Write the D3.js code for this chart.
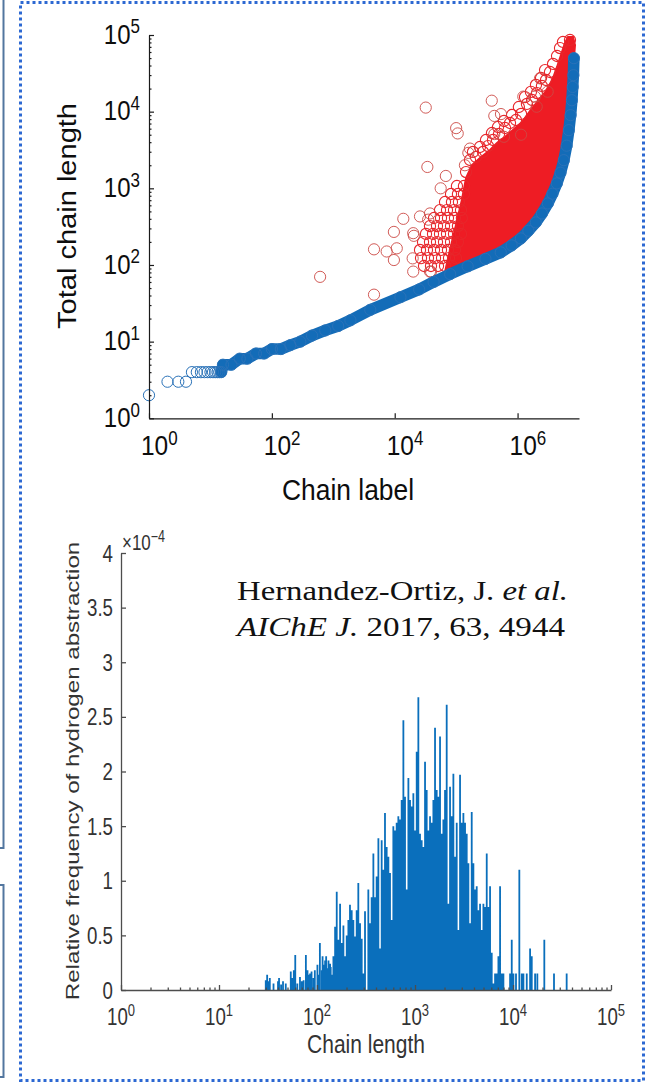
<!DOCTYPE html>
<html>
<head>
<meta charset="utf-8">
<script src="https://cdn.jsdelivr.net/npm/d3@7"></script>
<style>
  html, body { margin: 0; padding: 0; background: #fff; }
  svg { display: block; }
</style>
</head>
<body>
<svg id="fig" width="647" height="1085"></svg>
<script>
// ---------- top panel: total chain length per chain label (sorted) ----------
const blueLabel = [1, 2, 3, 4, 5, 6, 7, 8, 9, 10, 11, 12, 13, 14, 15, 16, 22, 30, 40, 55, 75, 100, 140, 200,
  290, 450, 740, 1200, 1900, 4000, 12400, 25000, 43000, 80000, 154000, 300000, 532000, 800000, 1130000,
  1500000, 1980000, 2500000, 3110000, 3700000, 4360000, 5000000, 5670000, 6300000, 6840000, 7300000,
  7660000, 7900000, 8100000, 8260000];
const blueLength = [2, 3, 3, 3, 4, 4, 4, 4, 4, 4, 4, 4, 4, 4, 4, 5, 5, 6, 6, 7, 7, 8, 8, 9,
  10, 12, 14, 16, 19, 26, 38, 48, 60, 76, 96, 120, 146, 180, 222,
  280, 359, 470, 635, 850, 1160, 1600, 2330, 3600, 5740, 9000,
  14100, 21000, 29900, 49900];

// chains with hydrogen abstraction: outline of the fully overlapped core
const redCoreLabel = [65900, 79400, 99500, 124000, 145000, 181000, 244000, 356000, 462000, 624000, 841000, 1180000,
  1590000, 2150000, 3010000, 3780000, 4390000, 5090000, 5920000, 6620000, 7980000, 8610000, 8280000, 7980000,
  7410000, 6620000, 5480000, 4220000, 3010000, 1920000, 1090000, 518000, 244000, 150000, 65900];
const redCoreLength = [81, 157, 332, 704, 1360, 2010, 2490, 3160, 3900, 4670, 5770, 7330,
  10200, 13800, 19200, 27500, 38300, 54800, 78700, 94200, 94200, 74100, 50100, 30100,
  14200, 5770, 2340, 1170, 644, 364, 225, 148, 120, 97, 76];

// chains with hydrogen abstraction: overlapping markers around the core
const redEdgeLabel = [
  30000, 38960, 50700, 65900, 85500,
  26800, 34800, 45300, 58900, 76500, 99500,
  25800, 33500, 43600, 56700, 73600, 95700,
  28900, 37500, 48800, 63400, 82500, 107000,
  32300, 42000, 54600, 71000, 92300, 120000,
  37500, 48800, 63400, 82500, 107000,
  43600, 56700, 73600, 95700, 124000,
  54600, 71000, 92300, 120000,
  65900, 85500, 111000,
  82500, 107000, 134000,
  103000, 134000,
  145000, 168000, 210000, 274000, 330000, 398000, 499000, 624000, 753000, 942000, 1140000, 1420000,
  1720000, 2070000, 2490000, 2900000, 3370000, 3780000, 4390000, 4910000, 5480000, 7130000,
  188000, 244000, 306000, 383000, 480000, 601000, 812000, 1050000, 1320000, 1650000, 1990000, 2410000, 2800000];
const redEdgeLength = [
  97, 97, 97, 97, 97,
  123, 123, 123, 123, 123, 123,
  157, 157, 157, 157, 157, 157,
  199, 199, 199, 199, 199, 199,
  254, 254, 254, 254, 254, 254,
  322, 322, 322, 322, 322,
  410, 410, 410, 410, 410,
  521, 521, 521, 521,
  663, 663, 663,
  843, 843, 843,
  1072, 1072,
  1630, 2340, 2560, 2980, 3560, 4270, 5110, 6120, 7110, 7780, 9330, 12600,
  14200, 17500, 21600, 25900, 32900, 41900, 53200, 67600, 81100, 86100,
  2980, 3460, 4270, 5270, 6310, 7550, 9050, 11500, 15500, 18100, 22300, 27500, 34900];

// isolated chains with hydrogen abstraction
const redSparseLabel = [610, 4600, 4600, 7400, 10800, 9700, 9700, 13800, 20000, 20500, 19600, 20000, 25800,
  37500, 35000, 34000, 37500, 56000, 68000, 139000, 158000, 32000, 100000, 106000, 168000, 380000, 418000,
  537000, 418000, 600000, 1140000, 1240000, 1920000, 2320000, 3090000, 2050000, 39000];
const redSparseLength = [70, 41, 160, 150, 165, 116, 270, 400, 260, 240, 122, 82, 430,
  470, 390, 1900, 82, 1000, 1450, 2000, 2900, 11300, 6100, 5200, 3300, 13900, 8800,
  9300, 5100, 4700, 5000, 15700, 15700, 27200, 18200, 11600, 82];

const topYTicks = [1, 10, 100, 1000, 10000, 100000];
const topXTicks = [1, 100, 10000, 1000000];

// ---------- bottom panel: relative frequency of hydrogen abstraction ----------
const histLength = [
  30, 31, 32, 33, 36, 40, 41, 43, 45, 48, 54, 56, 58, 60, 63, 67, 70, 73, 77, 80, 83, 85, 88, 92,
  95, 101, 104, 107, 112, 114, 118, 121, 124, 127, 131, 136, 138, 142,
  147, 153, 159, 165, 172, 179, 186, 193, 201, 209, 217, 226, 235, 244, 254, 264, 275, 286, 297, 309,
  334, 348, 361, 376, 391, 406, 423, 440, 457, 475, 494, 514, 535, 556, 578, 601, 625, 650, 676,
  703, 731, 761, 791, 823, 856, 890, 925, 962, 1001, 1041, 1082, 1125, 1170, 1217, 1266, 1316, 1369,
  1424, 1481, 1540, 1601, 1665, 1732, 1801, 1873, 1948, 2025, 2106, 2191, 2278, 2369, 2464, 2562, 2665,
  2771, 2882, 2997, 3117, 3241, 3371, 3506, 3646, 3791, 3943, 4100, 4264, 4435, 4612, 4796, 4988, 5187,
  5395, 5610, 5834, 6067, 6310,
  6562, 6824, 7097, 7381, 7675, 7982, 9337, 9710, 10098, 10730, 11604, 12283, 12774, 13815,
  14941, 15538, 16805, 17716, 20871, 26207, 35285];
// relative frequency in units of 1e-4
const histFreq = [
  0.09, 0.14, 0.08, 0.11, 0.06, 0.08, 0.11, 0.05, 0.08, 0.06, 0.17, 0.11, 0.18, 0.32, 0.06, 0.12, 0.08, 0.09, 0.32, 0.18, 0.14, 0.15, 0.17, 0.11,
  0.18, 0.23, 0.14, 0.43, 0.18, 0.31, 0.23, 0.27, 0.31, 0.20, 0.27, 0.24, 0.21, 0.14,
  0.31, 0.58, 0.90, 0.46, 0.79, 0.43, 0.59, 0.31, 0.50, 0.64, 0.78, 0.73, 0.64, 0.49, 0.73, 0.98, 0.61, 0.47, 0.15, 0.72, 0.92,
  0.61, 0.85, 1.25, 0.85, 1.04, 1.39, 0.38, 1.37, 1.10, 1.62, 1.31, 1.22, 1.07, 0.64, 1.50, 1.46, 1.53, 1.59,
  1.56, 1.74, 2.47, 1.77, 0.92, 1.94, 1.74, 1.68, 1.80, 1.46, 2.18, 2.68, 1.43, 1.37, 1.31, 2.09, 1.83, 1.46,
  1.59, 1.53, 1.74, 2.40, 1.83, 1.77, 2.32, 1.43, 1.56, 1.83, 2.61, 0.79, 1.86, 1.59, 1.98, 1.22, 1.53,
  0.55, 1.97, 1.53, 1.62, 1.53, 1.43, 1.16, 0.61, 1.63, 1.16, 0.92, 0.95, 0.73, 0.79, 0.55, 0.79, 0.76,
  1.25, 0.76, 0.95, 0.34, 0.06,
  0.15, 0.15, 0.31, 0.95, 0.15, 0.15, 0.15, 0.46, 0.15, 0.15, 1.10, 0.15, 0.15, 0.15,
  0.38, 0.31, 0.15, 0.15, 0.46, 0.15, 0.15];
const histFreqExponent = -4;
const histXTicks = [1, 10, 100, 1000, 10000, 100000];
const histYTicks = [0, 0.5, 1, 1.5, 2, 2.5, 3, 3.5, 4];

// ---------- drawing ----------
const SANS = "'Liberation Sans', Arial, Helvetica, sans-serif";
const SERIF = "'Liberation Serif', 'Times New Roman', serif";
const svg = d3.select('#fig');

// neighbouring slide boxes on the left edge
svg.append('rect').attr('x', -20).attr('y', -20).attr('width', 23.5).attr('height', 868)
  .attr('fill', 'none').attr('stroke', '#52769f').attr('stroke-width', 2);
svg.append('rect').attr('x', -20).attr('y', 885).attr('width', 23.5).attr('height', 192)
  .attr('fill', 'none').attr('stroke', '#52769f').attr('stroke-width', 2);

// dotted frame
svg.append('rect').attr('x', 20.5).attr('y', 2.5).attr('width', 623).attr('height', 1078)
  .attr('fill', 'none').attr('stroke', '#2c68d2').attr('stroke-width', 3)
  .attr('stroke-dasharray', '3 3');

function stretched(x, y, k, rot) {
  return svg.append('g')
    .attr('transform', `translate(${x},${y}) scale(1,${k})` + (rot ? ` rotate(${rot})` : ''))
    .append('text');
}
function powerText(t, exp, size, supSize, rise) {
  t.append('tspan').attr('font-size', size).text('10');
  t.append('tspan').attr('font-size', supSize).attr('dy', -rise).text(exp);
}

// ===== top panel =====
const xTop = d3.scaleLog().domain([1, 1e7]).range([149, 579]);
const yTop = d3.scaleLog().domain([1, 1e5]).range([418.3, 35]);
const topPanel = svg.append('g');

// red markers first, blue on top
const core = redCoreLabel.map((v, i) => [xTop(v), yTop(redCoreLength[i])]);
topPanel.append('path').attr('d', d3.line().curve(d3.curveLinearClosed)(core))
  .attr('fill', '#ee1c24').attr('stroke', '#ee1c24').attr('stroke-width', 2);

topPanel.append('g').selectAll('circle').data(redEdgeLabel).join('circle')
  .attr('cx', d => xTop(d)).attr('cy', (d, i) => yTop(redEdgeLength[i])).attr('r', 5.6)
  .attr('fill', 'none').attr('stroke', '#e8262b').attr('stroke-width', 1.1);

topPanel.append('g').selectAll('circle').data(redSparseLabel).join('circle')
  .attr('cx', d => xTop(d)).attr('cy', (d, i) => yTop(redSparseLength[i])).attr('r', 5.6)
  .attr('fill', 'none').attr('stroke', '#cc4a45').attr('stroke-width', 0.9);

const bluePts = blueLabel.map((v, i) => ({ label: v, len: blueLength[i] }));
const denseBlue = bluePts.filter(d => d.label >= 15);
topPanel.append('path')
  .attr('d', d3.line().x(d => xTop(d.label)).y(d => yTop(d.len))(denseBlue))
  .attr('fill', 'none').attr('stroke', '#136cb8').attr('stroke-width', 11.5)
  .attr('stroke-linecap', 'round').attr('stroke-linejoin', 'round');
topPanel.append('g').selectAll('circle').data(bluePts).join('circle')
  .attr('cx', d => xTop(d.label)).attr('cy', d => yTop(d.len)).attr('r', 5.6)
  .attr('fill', 'none').attr('stroke', '#2a72b8').attr('stroke-width', 1);

// axes
const topYMinor = [];
for (let e = 0; e < 5; e++) for (let m = 2; m < 10; m++) topYMinor.push(m * Math.pow(10, e));
const ay = topPanel.append('g').attr('transform', 'translate(149,0)')
  .call(d3.axisLeft(yTop).tickValues(topYTicks).tickSizeInner(-5).tickSizeOuter(0).tickFormat(''));
const ayMinor = topPanel.append('g').attr('transform', 'translate(149,0)')
  .call(d3.axisLeft(yTop).tickValues(topYMinor).tickSizeInner(-2.5).tickSizeOuter(0).tickFormat(''));
ayMinor.select('.domain').remove();
const ax = topPanel.append('g').attr('transform', 'translate(0,418.3)')
  .call(d3.axisBottom(xTop).tickValues(topXTicks).tickSizeInner(-5).tickSizeOuter(0).tickFormat(''));
[ay, ayMinor, ax].forEach(a => {
  a.selectAll('path, line').attr('stroke', '#1a1a1a').attr('stroke-width', 1.2);
});

topYTicks.forEach(v => {
  const t = stretched(140, yTop(v), 1.15).attr('text-anchor', 'end').attr('y', 7.6)
    .attr('font-family', SANS).attr('fill', '#0d0d0d');
  powerText(t, Math.round(Math.log10(v)), 24, 17, 9);
});
topXTicks.forEach(v => {
  const t = stretched(xTop(v) - 8, 455, 1.15).attr('text-anchor', 'start')
    .attr('font-family', SANS).attr('fill', '#0d0d0d');
  powerText(t, Math.round(Math.log10(v)), 24.5, 17, 9);
});
stretched(348, 500, 1.15).attr('text-anchor', 'middle').attr('font-family', SANS)
  .attr('font-size', 26.4).attr('fill', '#0d0d0d').text('Chain label');
stretched(76, 216, 1.1, -90).attr('text-anchor', 'middle').attr('font-family', SANS)
  .attr('font-size', 26.4).attr('fill', '#0d0d0d').text('Total chain length');

// ===== bottom panel =====
const xHist = d3.scaleLog().domain([1, 1e5]).range([121, 611]);
const yHist = d3.scaleLinear().domain([0, 4]).range([990, 553]);
const histPanel = svg.append('g');

// all bars as one path so adjacent bars merge without seams
const barHalf = 0.9;
const barPath = d3.path();
histLength.forEach((len, i) => {
  const xc = xHist(len), y1 = yHist(histFreq[i]), y0 = yHist(0);
  barPath.rect(xc - barHalf, y1, 2 * barHalf, y0 - y1);
});
histPanel.append('path').attr('d', barPath.toString()).attr('fill', '#0a6fbc');

const histXMinor = [];
for (let e = 0; e < 5; e++) for (let m = 2; m < 10; m++) histXMinor.push(m * Math.pow(10, e));
const hx = histPanel.append('g').attr('transform', 'translate(0,990)')
  .call(d3.axisBottom(xHist).tickValues(histXTicks).tickSizeInner(-5).tickSizeOuter(0).tickFormat(''));
const hxMinor = histPanel.append('g').attr('transform', 'translate(0,990)')
  .call(d3.axisBottom(xHist).tickValues(histXMinor).tickSizeInner(-2.5).tickSizeOuter(0).tickFormat(''));
hxMinor.select('.domain').remove();
const hy = histPanel.append('g').attr('transform', 'translate(121,0)')
  .call(d3.axisLeft(yHist).tickValues(histYTicks).tickSizeInner(-5).tickSizeOuter(0).tickFormat(''));
[hx, hxMinor, hy].forEach(a => {
  a.selectAll('path, line').attr('stroke', '#4d4d4d').attr('stroke-width', 1.3);
});

const GRAY = '#333';
histYTicks.forEach(v => {
  stretched(113, yHist(v), 1.27).attr('text-anchor', 'end').attr('y', 6.7)
    .attr('font-family', SANS).attr('font-size', 18.7).attr('fill', GRAY).text(d3.format('~g')(v));
});
histXTicks.forEach(v => {
  const t = stretched(xHist(v), 1025, 1.27).attr('text-anchor', 'middle')
    .attr('font-family', SANS).attr('fill', GRAY);
  powerText(t, Math.round(Math.log10(v)), 18.7, 13, 7);
});
{
  const t = stretched(122, 550, 1.27).attr('font-family', SANS).attr('fill', GRAY);
  t.append('tspan').attr('font-size', 17).text('\u00d710');
  t.append('tspan').attr('font-size', 12.5).attr('dy', -6.5).text('\u2212' + Math.abs(histFreqExponent));
}
stretched(366, 1053, 1.27).attr('text-anchor', 'middle').attr('font-family', SANS)
  .attr('font-size', 21).attr('fill', GRAY).text('Chain length');
stretched(79, 771, 1.27, -90).attr('text-anchor', 'middle').attr('font-family', SANS)
  .attr('font-size', 19).attr('fill', GRAY).text('Relative frequency of hydrogen abstraction');

// citation
const cite = svg.append('g').attr('font-family', SERIF).attr('font-size', 28).attr('fill', '#111');
const l1 = cite.append('text').attr('x', 237).attr('y', 600)
  .attr('textLength', 331).attr('lengthAdjust', 'spacingAndGlyphs');
l1.append('tspan').text('Hernandez-Ortiz, J. ');
l1.append('tspan').attr('font-style', 'italic').text('et al.');
const l2 = cite.append('text').attr('x', 237).attr('y', 636)
  .attr('textLength', 328).attr('lengthAdjust', 'spacingAndGlyphs');
l2.append('tspan').attr('font-style', 'italic').text('AIChE J.');
l2.append('tspan').text(' 2017, 63, 4944');
</script>
</body>
</html>
